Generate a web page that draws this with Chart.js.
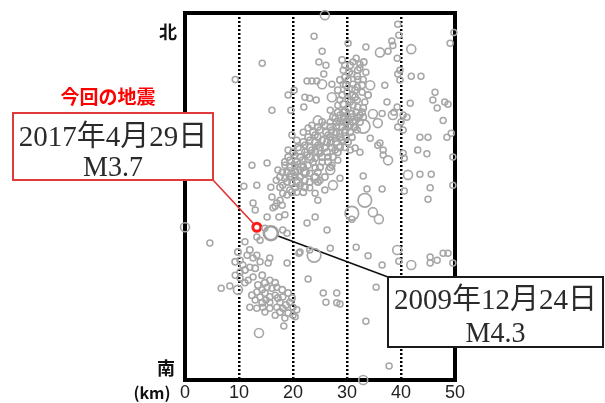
<!DOCTYPE html>
<html><head><meta charset="utf-8">
<script src="https://cdn.jsdelivr.net/npm/chart.js@4"></script>
<style>html,body{margin:0;padding:0;background:#fff}canvas{display:block}</style>
</head><body>
<canvas id="c" width="605" height="403"></canvas>
<script>
// ---- data (km east, km north) ----
const xTicks = [0, 10, 20, 30, 40, 50];

const smallEast = [
 23.9,25.4,24.8,26.1,14.3,9.3,22.6,23.5,24.4,27.2,
 20.2,19.1,22.2,23.1,24.3,22.0,16.1,30.2,33.5,37.6,
 38.3,38.5,39.4,39.6,39.3,39.8,39.4,41.9,43.7,37.0,
 49.8,49.1,46.3,45.9,46.7,48.1,48.7,41.7,37.4,39.3,
 38.7,40.4,41.1,36.5,40.0,39.4,40.4,47.8,48.5,49.3,
 43.5,45.0,43.1,44.8,49.6,43.5,45.6,45.4,49.6,40.4,
 40.6,33.0,33.7,36.5,30.9,36.7,35.7,34.3,36.1,36.7,
 31.5,32.4,40.6,45.0,39.8,25.7,29.3,30.2,31.1,32.0,
 30.9,30.0,31.1,31.9,30.6,32.0,32.8,33.0,29.6,30.9,
 31.9,30.2,29.6,31.1,32.4,33.5,29.3,31.7,28.7,33.3,
 30.2,32.4,29.6,30.9,28.7,30.2,27.8,31.5,29.1,26.9,
 30.6,28.1,25.9,29.6,27.2,25.0,28.7,26.5,24.1,27.8,
 25.4,23.1,29.1,26.9,24.6,22.2,25.9,23.5,27.8,25.0,
 22.6,20.4,26.5,24.1,21.7,19.4,25.4,22.8,20.4,18.5,
 24.1,21.3,18.0,23.1,20.4,18.5,22.2,19.8,18.1,21.3,
 19.4,23.1,25.0,28.3,29.6,31.9,32.4,31.1,23.5,21.9,
 20.7,22.8,19.1,17.2,16.9,18.9,20.7,24.1,25.9,28.7,
 27.2,29.8,30.6,28.3,26.9,12.4,15.2,10.9,13.3,15.9,
 19.6,19.8,16.1,18.1,17.6,16.7,24.6,12.6,13.0,15.2,
 17.4,18.5,17.0,18.0,16.3,14.8,18.1,18.9,13.3,13.9,
 11.1,4.6,22.6,24.1,26.3,21.3,23.1,26.9,10.2,11.5,
 12.6,13.3,13.9,10.7,12.0,10.2,15.7,15.4,18.9,9.3,
 10.2,11.7,12.6,11.1,6.7,8.3,15.7,15.2,14.3,13.3,
 16.1,17.0,18.1,19.4,20.0,20.7,12.0,13.3,14.4,15.7,
 17.0,18.1,20.0,20.4,18.3,22.8,21.1,13.9,15.0,16.7,
 13.0,15.7,17.6,14.8,16.7,18.5,25.6,26.1,28.1,28.1,
 28.7,33.5,35.4,36.5,33.9,37.8,39.6,45.4,45.4,46.7,
 47.8,48.7,49.6,31.7
];
const smallNorth = [
 63.7,60.9,58.9,58.3,58.7,55.7,55.4,55.4,55.4,54.8,
 53.7,52.8,52.4,52.2,51.9,50.6,50.0,62.4,61.7,60.9,
 62.8,62.0,65.9,63.9,59.6,57.4,56.7,56.3,56.3,54.6,
 64.4,62.4,53.3,51.9,50.4,51.5,51.1,51.3,51.5,50.6,
 49.6,49.1,48.7,49.4,47.8,46.9,46.3,48.1,45.0,45.7,
 45.0,45.0,42.6,41.9,41.3,38.1,38.1,35.6,36.1,42.0,
 41.1,37.8,35.4,35.4,29.8,42.6,43.5,44.8,43.9,41.7,
 43.0,42.2,35.0,33.5,55.6,56.7,54.8,55.6,54.8,55.7,
 53.9,53.3,52.8,51.9,51.5,50.6,53.3,55.7,56.1,56.7,
 54.3,51.9,58.3,58.9,57.8,57.0,57.4,59.6,51.9,51.5,
 50.4,58.5,50.0,49.4,49.1,48.5,48.5,48.1,47.8,47.8,
 47.2,47.0,47.2,46.3,46.3,46.3,45.7,45.4,45.4,44.8,
 44.4,44.4,44.4,43.9,43.5,43.5,43.0,42.6,42.6,42.0,
 41.7,41.7,41.3,41.1,40.7,40.7,40.4,39.8,39.8,39.8,
 39.3,38.9,38.5,38.3,37.6,37.4,37.0,36.5,36.1,36.1,
 35.2,35.6,37.0,40.7,43.1,46.3,49.1,50.9,47.2,45.9,
 44.4,46.7,42.6,38.9,37.0,34.3,34.8,34.6,35.2,37.4,
 39.8,44.8,42.6,50.9,50.0,39.8,40.2,35.9,36.1,35.7,
 50.0,45.4,33.9,34.6,33.3,32.2,33.3,32.8,31.5,30.2,
 30.2,30.6,32.8,32.4,31.9,28.1,27.8,27.2,26.5,25.9,
 25.6,25.4,29.1,30.2,27.8,23.7,24.1,24.4,22.2,23.1,
 22.6,23.1,21.9,21.3,20.9,20.0,22.6,21.7,21.7,19.4,
 18.9,18.5,19.1,18.0,17.0,17.4,18.5,17.2,16.7,16.3,
 17.0,17.2,15.4,14.4,13.5,13.0,13.5,13.3,13.5,13.3,
 13.5,13.3,12.0,11.7,10.0,18.7,23.5,15.4,14.8,15.7,
 14.8,14.4,14.4,12.6,12.0,11.5,16.1,14.4,16.1,14.3,
 14.1,10.9,17.2,21.3,23.0,2.6,22.0,22.8,21.7,22.2,
 23.5,23.5,21.7,24.6
];

// dense swarms: main NE-SW band, northern cluster, southern cluster
const denseEast = [
 28.3,29.3,31.7,32.8, 27.4,29.4,30.9,32.0,33.0,
 25.4,28.0,29.8,31.1,32.4, 24.6,26.9,29.1,30.2,31.5,
 23.7,26.1,28.0,30.6,29.6, 22.8,24.6,26.9,28.7,30.9,
 21.9,24.1,26.3,28.0,30.2, 20.9,23.1,25.0,27.2,28.7,
 20.0,22.2,24.1,26.3,28.3, 19.1,21.3,23.1,25.4,27.4,
 18.5,20.7,23.7,26.5, 19.4,21.9,25.0,26.9,
 18.9,20.4,22.2,24.6, 17.6,19.4,21.3,24.1,25.9,
 18.9,20.7,23.1,24.6, 17.6,20.4,22.2, 19.8,21.9,
 29.1,30.6,32.0,33.1,28.7,29.8,31.5,32.8,29.1,31.5,33.0,29.3,33.9,28.3,31.9,30.4,
 13.5,14.8,16.7,18.0,19.1,14.3,15.7,17.2,18.7,19.8,17.6,19.1,12.4,14.8,
 9.8,12.0,9.3,11.1,13.0,14.3
];
const denseNorth = [
 49.6,49.6,49.6,49.6, 48.7,48.7,48.7,48.7,48.7,
 47.8,47.8,47.8,47.8,47.8, 46.9,46.9,46.9,46.9,46.9,
 45.9,45.9,45.9,45.9,45.9, 45.0,45.0,45.0,45.0,45.0,
 44.1,44.1,44.1,44.1,44.1, 43.1,43.1,43.1,43.1,43.1,
 42.2,42.2,42.2,42.2,42.2, 41.3,41.3,41.3,41.3,41.3,
 40.4,40.4,40.4,40.4, 39.4,39.4,39.4,39.4,
 38.5,38.5,38.5,38.5, 37.6,37.6,37.6,37.6,37.6,
 36.7,36.7,36.7,36.7, 35.7,35.7,35.7, 34.8,34.8,
 59.3,58.3,57.4,58.9,55.6,54.6,53.7,54.6,52.8,52.4,50.4,51.1,52.8,53.7,56.3,57.0,
 17.6,18.0,18.0,16.7,16.1,14.3,15.4,15.2,13.9,15.2,12.6,12.4,15.7,16.1,
 23.7,24.1,21.9,20.4,20.7,19.4
];

const mediumEast = [
 25.9,25.4,27.2,36.1,41.9,34.8,38.5,41.3,34.8,35.9,
 37.6,34.3,24.6,21.3,19.4,26.9,27.4,9.8,13.7,0.0,
 33.0,39.3,41.9,35.7,
 30.6,28.7,27.4,25.9,24.6,23.1,21.3,19.8,22.2,29.6,28.3,24.1,20.9
];
const mediumNorth = [
 67.6,54.8,52.4,60.7,61.3,49.3,49.1,38.0,31.1,29.8,
 40.7,54.6,48.1,42.6,38.5,38.9,36.1,16.7,8.7,28.3,
 0.0,24.1,21.3,47.6,
 49.1,47.2,45.7,44.4,42.6,41.1,39.8,38.0,38.5,48.1,43.5,37.4,36.7
];

const largeEast  = [33.0, 33.3, 30.9, 23.9];
const largeNorth = [47.0, 33.3, 30.9, 23.1];

const currentEvent = { east: 13.3, north: 28.3 };   // 2017-04-29 M3.7
const pastEvent    = { east: 15.9, north: 27.2 };   // 2009-12-24 M4.3

const currentTitle = '今回の地震';
const currentLines = ['2017年4月29日', 'M3.7'];
const pastLines    = ['2009年12月24日', 'M4.3'];
const northLabel = '北', southLabel = '南', unitLabel = '(km)';

// ---- chart ----
function pts(xs, ys) { return xs.map((x, i) => ({ x: x, y: ys[i] })); }
const gray = '#a6a6a6';
const clear = 'rgba(0,0,0,0)';

const decor = {
  id: 'decor',
  beforeDatasetsDraw(chart) {
    const { ctx, chartArea: a } = chart;
    const sx = chart.scales.x, sy = chart.scales.y;
    ctx.save();
    ctx.lineWidth = 4;
    ctx.strokeStyle = '#000';
    ctx.strokeRect(a.left, a.top, a.right - a.left, a.bottom - a.top);

    function leader(x0, y0, ev, r, color) {
      const px = sx.getPixelForValue(ev.east), py = sy.getPixelForValue(ev.north);
      const dx = px - x0, dy = py - y0, d = Math.hypot(dx, dy);
      ctx.beginPath();
      ctx.strokeStyle = color;
      ctx.lineWidth = 1.6;
      ctx.moveTo(x0, y0);
      ctx.lineTo(px - dx / d * r, py - dy / d * r);
      ctx.stroke();
    }
    leader(213, 180, currentEvent, 4, '#e53030');
    leader(388, 277, pastEvent, 7, '#111');
    ctx.restore();
  },
  afterDatasetsDraw(chart) {
    const { ctx } = chart;
    ctx.save();
    ctx.textAlign = 'center';
    ctx.textBaseline = 'middle';

    ctx.fillStyle = '#ff0000';
    ctx.font = 'bold 19px "Noto Sans CJK JP", sans-serif';
    ctx.fillText(currentTitle, 108, 97);

    function box(x, y, w, h, color, lines, y1, y2) {
      ctx.fillStyle = '#fff';
      ctx.fillRect(x, y, w, h);
      ctx.lineWidth = 2;
      ctx.strokeStyle = color;
      ctx.strokeRect(x, y, w, h);
      ctx.fillStyle = '#2a2a2a';
      ctx.font = '29px "Liberation Serif", "Noto Sans CJK JP", serif';
      ctx.fillText(lines[0], x + w / 2, y1, w - 10);
      ctx.fillText(lines[1], x + w / 2, y2, 60);
    }
    box(13, 113, 200, 67, '#e03a3a', currentLines, 138, 168);
    box(388, 277, 215, 70, '#1a1a1a', pastLines, 301, 334);

    ctx.fillStyle = '#111';
    ctx.font = 'bold 18px "Noto Sans CJK JP", sans-serif';
    ctx.fillText(northLabel, 168, 32);
    ctx.fillText(southLabel, 166, 368);
    ctx.font = 'bold 16px "Noto Sans CJK JP", sans-serif';
    ctx.fillText(unitLabel, 152, 393);
    ctx.restore();
  }
};

new Chart(document.getElementById('c'), {
  type: 'scatter',
  data: {
    datasets: [
      { data: pts(smallEast, smallNorth), pointRadius: 3, borderWidth: 1.5, borderColor: gray, backgroundColor: clear, clip: false },
      { data: pts(denseEast, denseNorth), pointRadius: 3.2, borderWidth: 1.6, borderColor: gray, backgroundColor: clear, clip: false },
      { data: pts(mediumEast, mediumNorth), pointRadius: 4.5, borderWidth: 1.6, borderColor: gray, backgroundColor: clear, clip: false },
      { data: pts(largeEast, largeNorth), pointRadius: 6.8, borderWidth: 1.7, borderColor: gray, backgroundColor: clear, clip: false },
      { data: [{ x: pastEvent.east, y: pastEvent.north }], pointRadius: 7, borderWidth: 2.6, borderColor: '#a0a0a0', backgroundColor: clear, clip: false },
      { data: [{ x: currentEvent.east, y: currentEvent.north }], pointRadius: 4, borderWidth: 3, borderColor: '#ff1a1a', backgroundColor: '#fff', clip: false }
    ]
  },
  options: {
    responsive: false,
    animation: false,
    events: [],
    layout: { padding: { left: 185, right: 150, top: 13, bottom: 0 } },
    plugins: { legend: { display: false }, tooltip: { enabled: false } },
    scales: {
      x: {
        type: 'linear', min: 0, max: 50,
        afterBuildTicks: s => { s.ticks = xTicks.map(v => ({ value: v })); },
        afterFit: s => { s.height = 23; },
        ticks: { padding: 2, autoSkip: false, maxRotation: 0, color: '#222',
                 font: { family: '"Liberation Sans", Arial, sans-serif', size: 18 } },
        grid: { drawTicks: false, lineWidth: 2.5,
                color: c => (c.tick && (c.tick.value === 0 || c.tick.value === 50)) ? clear : '#000' },
        border: { display: false, dash: [2, 2] }
      },
      y: { type: 'linear', min: 0, max: 68, display: false }
    }
  },
  plugins: [decor]
});
</script>
</body></html>
